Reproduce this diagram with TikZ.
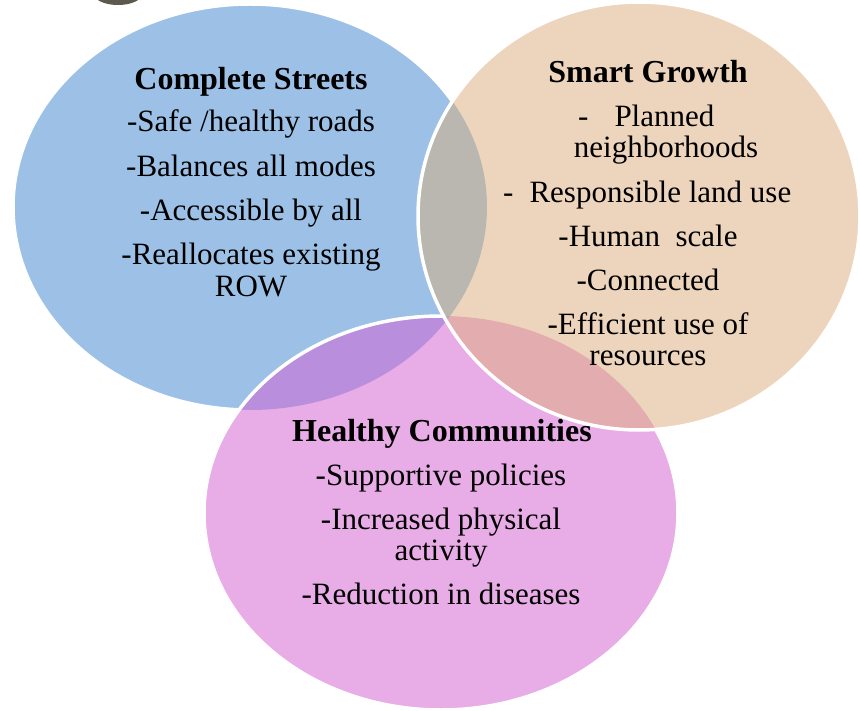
\documentclass[tikz,border=0pt]{standalone}
\newif\ifpala
\IfFileExists{pplr8t.tfm}{\IfFileExists{pplb8t.tfm}{\palatrue}{\palafalse}}{\palafalse}
\ifpala
  \usepackage[T1]{fontenc}
  \renewcommand{\rmdefault}{ppl}
  \newcommand{\bodysize}{\fontsize{27}{31}\selectfont}
  \newcommand{\headsize}{\fontsize{28}{32}\selectfont}
\else
  \usepackage{fontspec}
  \setmainfont{Liberation Serif}
  \newcommand{\bodysize}{\fontsize{31}{35}\selectfont}
  \newcommand{\headsize}{\fontsize{32}{36}\selectfont}
\fi
\definecolor{csblue}{HTML}{9DC1E6}
\definecolor{sgpeach}{HTML}{EDD5BD}
\definecolor{hcpink}{HTML}{E8ACE6}
\definecolor{lensgray}{HTML}{BAB6B0}
\definecolor{lenspurple}{HTML}{B98EDC}
\definecolor{lensrose}{HTML}{E3ACAE}
\definecolor{lenstriple}{HTML}{B9A2BE}
\definecolor{knobgray}{HTML}{5D594E}
\begin{document}
\begin{tikzpicture}[x=1pt,y=-1pt,
  body/.style={font=\bodysize, inner sep=0pt, anchor=base, text=black},
  head/.style={font=\headsize\bfseries, inner sep=0pt, anchor=base, text=black},
  rim/.style={draw=white, line width=3.5pt}]
\useasboundingbox (0,0) rectangle (860,711);
% dark knob cut by top edge
\begin{scope}
  \clip (0,0) rectangle (860,711);
  \fill[knobgray] (118,-6) ellipse [x radius=24pt, y radius=11pt];
\end{scope}
% blue circle
\fill[csblue] (250,207) ellipse [x radius=237pt, y radius=203pt];
\draw[rim] (250,207) ellipse [x radius=237pt, y radius=203pt];
% pink circle
\fill[hcpink] (441,513) ellipse [x radius=237pt, y radius=197pt];
\begin{scope}
  \clip (441,513) ellipse [x radius=237pt, y radius=197pt];
  \fill[lenspurple] (250,207) ellipse [x radius=237pt, y radius=203pt];
\end{scope}
\draw[rim] (441,513) ellipse [x radius=237pt, y radius=197pt];
% peach circle
\fill[sgpeach] (639,216) ellipse [x radius=221pt, y radius=214pt];
\begin{scope}
  \clip (639,216) ellipse [x radius=221pt, y radius=214pt];
  \fill[lensgray] (250,207) ellipse [x radius=237pt, y radius=203pt];
  \fill[lensrose] (441,513) ellipse [x radius=237pt, y radius=197pt];
  \clip (441,513) ellipse [x radius=237pt, y radius=197pt];
  \fill[lenstriple] (250,207) ellipse [x radius=237pt, y radius=203pt];
\end{scope}
\draw[rim] (639,216) ellipse [x radius=221pt, y radius=214pt];
% Complete Streets
\node[head] (csh) at (251,90) {Complete Streets};
\node[body] (cs1) at (251,132) {-Safe /healthy roads};
\node[body] (cs2) at (251,177) {-Balances all modes};
\node[body] (cs3) at (251,221) {-Accessible by all};
\node[body] (cs4) at (251,265) {-Reallocates existing};
\node[body] (cs5) at (251,297) {ROW};
% Smart Growth
\node[head] (sgh) at (648,83) {Smart Growth};
\node[body, anchor=base west] (sg1) at (578,127) {-\hspace{26pt}Planned};
\node[body] (sg2) at (666,158) {neighborhoods};
\node[body, anchor=base west] (sg3) at (503,203) {-\hspace{16pt}Responsible land use};
\node[body] (sg4) at (648,247) {-Human\ \ scale};
\node[body] (sg5) at (648,291) {-Connected};
\node[body] (sg6) at (648,335) {-Efficient use of};
\node[body] (sg7) at (648,366) {resources};
% Healthy Communities
\node[head] (hch) at (442,442) {Healthy Communities};
\node[body] (hc1) at (441,485) {-Supportive policies};
\node[body] (hc2) at (441,529) {-Increased physical};
\node[body] (hc3) at (441,560) {activity};
\node[body] (hc4) at (441,604) {-Reduction in diseases};
\end{tikzpicture}
\end{document}
